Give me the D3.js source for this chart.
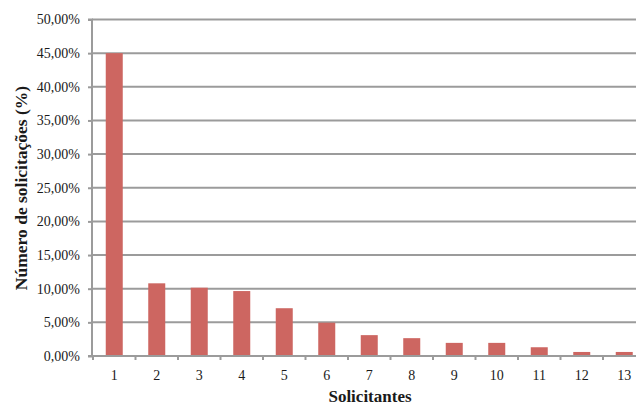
<!DOCTYPE html>
<html>
<head>
<meta charset="utf-8">
<script src="https://cdn.jsdelivr.net/npm/d3@7"></script>
<style>
  html, body { margin: 0; padding: 0; background: #fff; overflow: hidden; }
  svg { display: block; }
  text { font-family: "Liberation Serif", "Times New Roman", serif; fill: #1a1a1a; }
</style>
</head>
<body>
<svg id="chart" width="636" height="407"></svg>
<script>
const categories = ["1","2","3","4","5","6","7","8","9","10","11","12","13"];
const values = [45.0, 10.8, 10.15, 9.65, 7.1, 4.95, 3.1, 2.65, 1.95, 1.95, 1.3, 0.6, 0.6];
const yTicks = [0, 5, 10, 15, 20, 25, 30, 35, 40, 45, 50];
const xTitle = "Solicitantes";
const yTitle = "Número de solicitações (%)";

const svg = d3.select("#chart");
const mLeft = 93, mRight = 645.5, mTop = 19.5, mBottom = 356;
const gridColor = "#9b9b9b";

const x = d3.scaleBand().domain(categories).range([mLeft, mRight]).paddingInner(0.6).paddingOuter(0.3);
const y = d3.scaleLinear().domain([0, 50]).range([mBottom, mTop]);

const fmt = v => v.toFixed(2).replace(".", ",") + "%";

// gridlines
svg.append("g").selectAll("line").data(yTicks.filter(t => t > 0)).join("line")
  .attr("x1", mLeft - 1).attr("x2", mRight)
  .attr("y1", d => y(d)).attr("y2", d => y(d))
  .attr("stroke", gridColor).attr("stroke-width", 2);

// bars
svg.append("g").selectAll("rect").data(categories).join("rect")
  .attr("x", d => x(d))
  .attr("width", x.bandwidth())
  .attr("y", (d, i) => y(values[i]))
  .attr("height", (d, i) => y(0) - y(values[i]))
  .attr("fill", "#cd6661");

// y axis
const yAxis = d3.axisLeft(y).tickValues(yTicks).tickFormat(fmt).tickSize(4).tickPadding(8);
const gy = svg.append("g").attr("transform", `translate(${mLeft - 1},0)`).call(yAxis);
gy.select(".domain").attr("stroke", gridColor).attr("stroke-width", 2).attr("d", `M-4,${mTop}H0V${mBottom + 1}`);
gy.selectAll(".tick line").attr("stroke", gridColor).attr("stroke-width", 2);
gy.selectAll(".tick text").attr("font-size", 14).attr("font-family", "Liberation Serif").attr("fill", "#1a1a1a");

// x axis baseline
svg.append("line").attr("x1", mLeft - 5).attr("x2", mRight).attr("y1", mBottom).attr("y2", mBottom)
  .attr("stroke", gridColor).attr("stroke-width", 2);

// x tick marks at band boundaries
const step = x.step();
const bounds = categories.map(c => x(c) - step * x.paddingOuter()).concat([mRight]);
svg.append("g").selectAll("line").data(bounds).join("line")
  .attr("x1", d => d).attr("x2", d => d)
  .attr("y1", mBottom).attr("y2", mBottom + 4)
  .attr("stroke", gridColor).attr("stroke-width", 2);

// x tick labels
svg.append("g").selectAll("text").data(categories).join("text")
  .attr("x", d => x(d) + x.bandwidth() / 2)
  .attr("y", 380)
  .attr("text-anchor", "middle")
  .attr("font-size", 14)
  .text(d => d);

// titles
svg.append("text").attr("x", 370).attr("y", 402)
  .attr("text-anchor", "middle").attr("font-size", 17).attr("font-weight", "bold")
  .text(xTitle);

svg.append("text").attr("transform", `translate(27,188) rotate(-90)`)
  .attr("text-anchor", "middle").attr("font-size", 17.5).attr("font-weight", "bold")
  .text(yTitle);
</script>
</body>
</html>
